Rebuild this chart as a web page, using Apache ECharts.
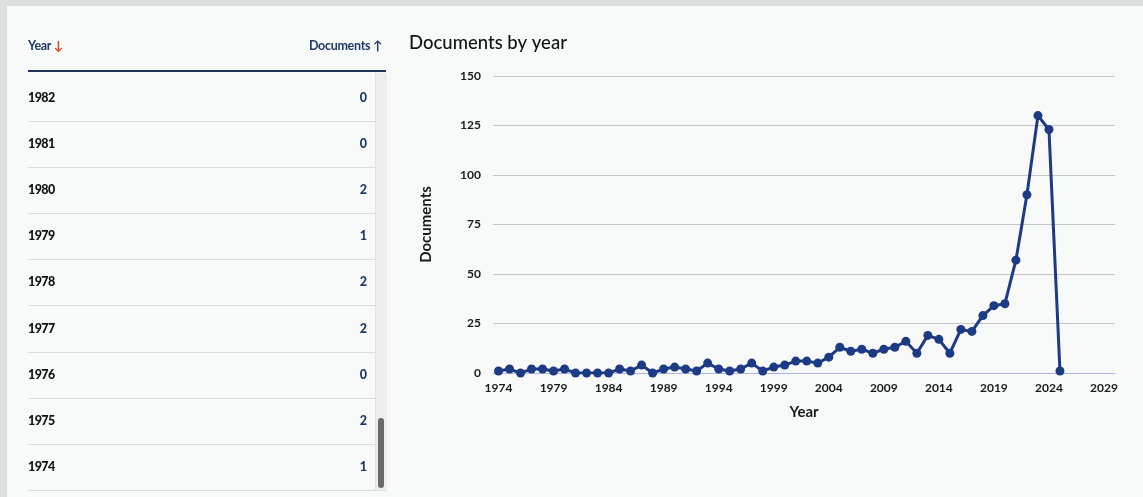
<!DOCTYPE html>
<html>
<head>
<meta charset="utf-8">
<script src="https://cdn.jsdelivr.net/npm/echarts@6/dist/echarts.min.js"></script>
<style>
html,body{margin:0;padding:0;width:1143px;height:497px;overflow:hidden;background:#f8f9f9;font-family:Lato,"Open Sans",sans-serif;}
#frameTop{position:absolute;left:0;top:0;width:1143px;height:6px;background:#dedfdf;}
#frameLeft{position:absolute;left:0;top:0;width:7px;height:497px;background:#dedfdf;}
#chart{position:absolute;left:0;top:0;width:1143px;height:497px;}
#table{position:absolute;left:28px;top:0;width:358px;height:497px;z-index:2;}
.hdr{position:absolute;top:38px;font-size:12.5px;font-weight:bold;color:#1e3a68;letter-spacing:-0.3px;}
.hline{position:absolute;left:0;top:70px;width:358px;height:2px;background:#1b3558;}
.row{position:absolute;left:0;width:347px;height:46px;border-bottom:1px solid #dcdcdc;}
.row .y{position:absolute;left:0;top:15px;font-size:12.5px;font-weight:900;color:#111;letter-spacing:-0.6px;}
.row .v{position:absolute;right:8px;top:15px;font-size:12.5px;font-weight:900;color:#1e3a68;}
#track{position:absolute;left:347px;top:73px;width:11px;height:417px;background:#ededed;border-left:1px solid #e2e2e2;}
#thumb{position:absolute;left:350px;top:418px;width:6px;height:70px;background:#6b6b6b;border-radius:3px;}
#lastline{position:absolute;left:0;top:490px;width:358px;height:1px;background:#dcdcdc;}
</style>
</head>
<body>
<div id="frameTop"></div>
<div id="frameLeft"></div>
<div id="chart"></div>
<div id="table">
  <div class="hdr" style="left:0">Year <span style="color:#e3412b">&#8595;</span></div>
  <div class="hdr" style="right:4px">Documents &#8593;</div>
  <div class="hline"></div>
  <div id="rows"></div>
  <div id="track"></div>
  <div id="thumb"></div>
  <div id="lastline"></div>
</div>
<script>
// Data
const years = [1974,1975,1976,1977,1978,1979,1980,1981,1982,1983,1984,1985,1986,1987,1988,1989,1990,1991,1992,1993,1994,1995,1996,1997,1998,1999,2000,2001,2002,2003,2004,2005,2006,2007,2008,2009,2010,2011,2012,2013,2014,2015,2016,2017,2018,2019,2020,2021,2022,2023,2024,2025];
const documents = [1,2,0,2,2,1,2,0,0,0,0,2,1,4,0,2,3,2,1,5,2,1,2,5,1,3,4,6,6,5,8,13,11,12,10,12,13,16,10,19,17,10,22,21,29,34,35,57,90,130,123,1];
const tableYears = [1982,1981,1980,1979,1978,1977,1976,1975,1974];
const xTickLabels = [1974,1979,1984,1989,1994,1999,2004,2009,2014,2019,2024,2029];
const yTickLabels = [0,25,50,75,100,125,150];

// Table
const rowsEl = document.getElementById('rows');
tableYears.forEach((yr, i) => {
  const v = documents[years.indexOf(yr)];
  const d = document.createElement('div');
  d.className = 'row';
  d.style.top = (75 + i * 46.1) + 'px';
  d.innerHTML = '<span class="y">' + yr + '</span><span class="v">' + v + '</span>';
  rowsEl.appendChild(d);
});

// Chart
const chart = echarts.init(document.getElementById('chart'), null, {renderer: 'canvas'});
const lblFont = {fontFamily: 'Lato', fontWeight: 'bold', fontSize: 12, color: '#1a1a1a'};
chart.setOption({
  animation: false,
  backgroundColor: 'transparent',
  title: {
    text: 'Documents by year', left: 404, top: 29,
    textStyle: {fontFamily: 'Lato', fontWeight: 500, fontSize: 18.5, color: '#111'}
  },
  grid: {left: 493, right: 28, top: 76, bottom: 124},
  xAxis: {
    type: 'value', min: 1973.5, max: 2030,
    name: 'Year', nameLocation: 'middle', nameGap: 32,
    nameTextStyle: {fontFamily: 'Lato', fontSize: 15, fontWeight: 'bold', color: '#1a1a1a'},
    axisLine: {show: true, lineStyle: {color: '#a9b6e0', width: 1}},
    axisTick: {show: false},
    splitLine: {show: false},
    axisLabel: Object.assign({customValues: xTickLabels, margin: 9, formatter: v => String(v)}, lblFont)
  },
  yAxis: {
    type: 'value', min: 0, max: 150, interval: 25,
    name: 'Documents', nameLocation: 'middle', nameGap: 59, nameRotate: 90,
    nameTextStyle: {fontFamily: 'Lato', fontSize: 15, fontWeight: 'bold', color: '#1a1a1a'},
    axisLine: {show: false}, axisTick: {show: false},
    splitLine: {lineStyle: {color: '#c6c6c6', width: 1.2}},
    axisLabel: Object.assign({customValues: yTickLabels, margin: 12}, lblFont)
  },
  series: [{
    type: 'line',
    data: years.map((y, i) => [y, documents[i]]),
    symbol: 'circle', symbolSize: 9,
    lineStyle: {color: '#1d3a85', width: 3},
    itemStyle: {color: '#1d3a85'},
    z: 5
  }]
});
</script>
</body>
</html>
